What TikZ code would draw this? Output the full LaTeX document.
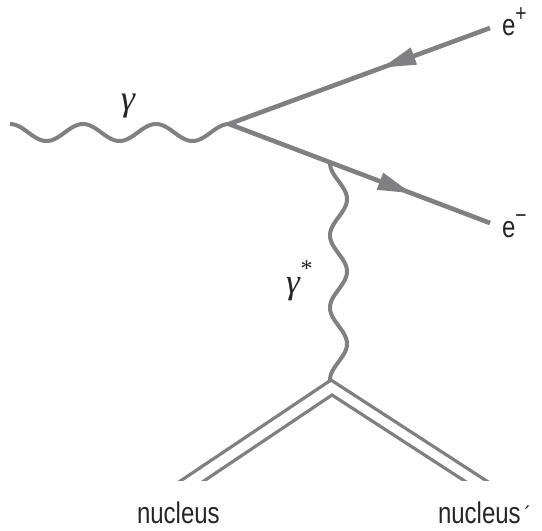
\documentclass[tikz,border=0pt]{standalone}
\usepackage{fontspec}
\setmainfont{Liberation Sans}[FakeStretch=0.8]
\newfontfamily\grfont{Liberation Serif}
\usetikzlibrary{arrows.meta,decorations.markings,calc}
\definecolor{lg}{RGB}{128,128,130}
\tikzset{
  fermion/.style={draw=lg,line width=4.6pt},
  photon/.style={draw=lg,line width=4pt,line join=round},
  nucl/.style={draw=lg,line width=3.2pt,line join=miter},
  lbl/.style={inner sep=0pt,outer sep=0pt,text=black!85},
  midarrow/.style={postaction={decorate},decoration={markings,
     mark=at position #1 with {\arrow{Triangle[length=34pt,width=17pt]}}}}
}
\begin{document}
\begin{tikzpicture}[x=1pt,y=-1pt,font=\fontsize{30}{34}\selectfont]
\useasboundingbox (0,0) rectangle (542,531);
% vertices
\coordinate (G0) at (10,124);
\coordinate (V) at (229,124);
\coordinate (Ep) at (490,28);
\coordinate (Em) at (490,223);
\coordinate (Q) at ($(V)!0.387!(Em)$);
\coordinate (N) at (331,380);
\coordinate (Ni) at (332,395);
\coordinate (NLo) at (152,500);
\coordinate (NRo) at (516,500);
\coordinate (NLi) at (175.5,500);
\coordinate (NRi) at (494,500);
% real photon
\draw[photon] plot[domain=0:219,samples=220,smooth] ({10+\x},{132.5-8.5*cos(4.9315*\x)});
% virtual photon
\draw[photon] plot[domain=0:217,samples=220,smooth] ({338.5-8.5*cos(4.9772*\x)},{163+\x}) -- (N);
% fermion lines
\draw[fermion,midarrow=0.414] (Ep) -- (V);
\draw[fermion,midarrow=0.70] (V) -- (Em);
% nucleus double lines
\begin{scope}
\clip (0,0) rectangle (542,480);
\draw[nucl] (NLo) -- (N) -- (NRo);
\draw[nucl] (NLi) -- (Ni) -- (NRi);
\end{scope}
% labels
\node[lbl,anchor=base west,font=\fontsize{36}{40}\selectfont\grfont\itshape] (lg) at (121,110) {γ};
\node[lbl,anchor=base west,font=\fontsize{35}{40}\selectfont\grfont] (lgs) at (286,293) {\textit{γ}\raisebox{17pt}{\fontsize{24}{24}\selectfont *}};
\node[lbl,anchor=base west] (lep) at (502,35) {e\raisebox{14pt}{\fontsize{24}{24}\selectfont +}};
\node[lbl,anchor=base west] (lem) at (502,237) {e\raisebox{14pt}{\fontsize{24}{24}\selectfont −}};
\node[lbl,anchor=base west] (n1) at (137,523) {nucleus};
\node[lbl,anchor=base west] (n2) at (438,523) {nucleus\kern4pt\fontsize{24}{24}\selectfont ´};
\end{tikzpicture}
\end{document}
